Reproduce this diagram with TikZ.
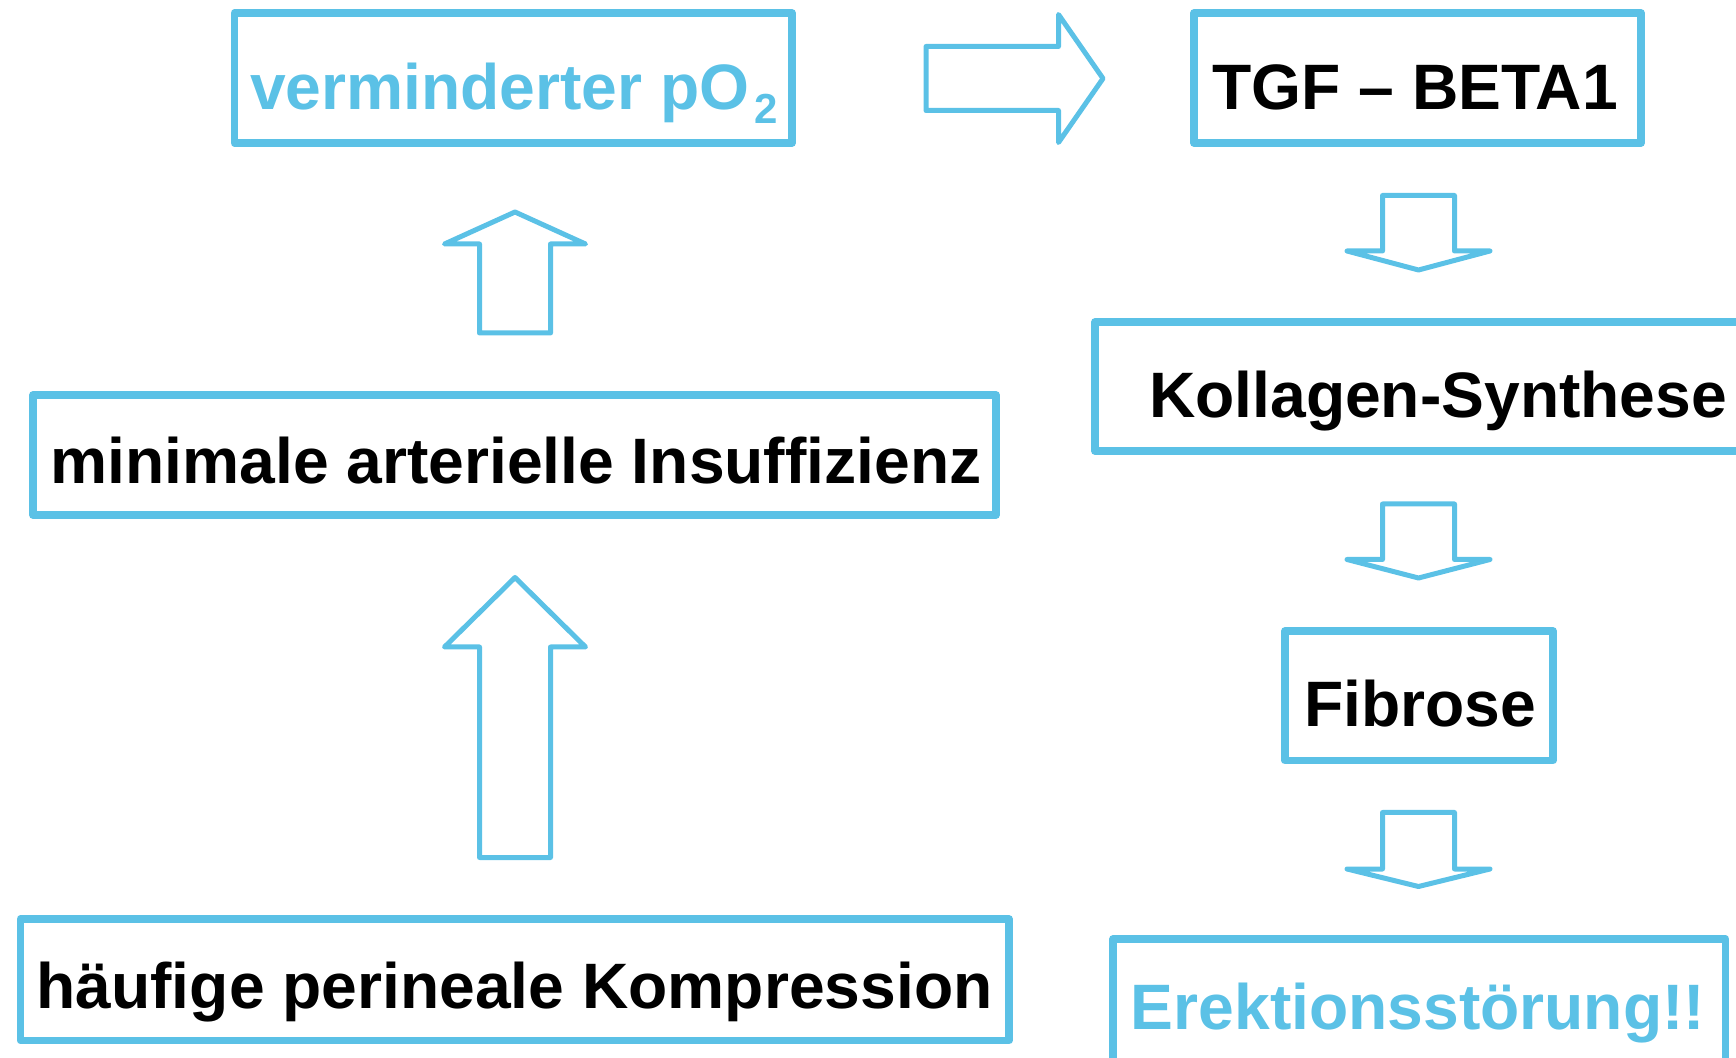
\documentclass[tikz,border=0pt]{standalone}
\usepackage{fontspec}
\setmainfont{Liberation Sans}
\definecolor{hellblau}{RGB}{91,193,230}

\begin{document}
\begin{tikzpicture}[x=0.5pt,y=-0.5pt,
  kasten/.style={draw=hellblau, line width=3.75pt, line join=round, inner sep=0pt},
  pfeil/.style={draw=hellblau, line width=2.5pt, line join=round, line cap=round},
  schrift/.style={font=\fontsize{32.1}{36}\selectfont\bfseries, anchor=base, inner sep=0pt}]
\useasboundingbox (0,0) rectangle (1736,1058);
\clip (0,0) rectangle (1736,1058);

\node[kasten, minimum width=278.75pt, minimum height=65pt] (po2box) at (513.25,78) {};
\node[kasten, minimum width=223.5pt, minimum height=65pt] (tgfbox) at (1417.5,78) {};
\node[kasten, minimum width=481.5pt, minimum height=60pt] (insuffbox) at (514.5,455) {};
\node[kasten, minimum width=352.5pt, minimum height=64.5pt] (kollagenbox) at (1447.5,386.5) {};
\node[kasten, minimum width=134pt, minimum height=64.75pt] (fibrosebox) at (1419,695.75) {};
\node[kasten, minimum width=494.25pt, minimum height=60.75pt] (kompbox) at (514.75,979.75) {};
\node[kasten, minimum width=306.25pt, minimum height=61.5pt] (erektbox) at (1419.25,1000.5) {};

\node[schrift, text=hellblau] (po2) at (514,109.5) {verminderter pO\kern2.5pt\raisebox{-7pt}{\fontsize{21}{21}\selectfont 2}};
\node[schrift] (tgf) at (1415,110) {TGF – BETA1};
\node[schrift] (insuff) at (516,484) {minimale arterielle Insuffizienz};
\node[schrift] (kollagen) at (1438,418) {Kollagen-Synthese};
\node[schrift] (fibrose) at (1420,727) {Fibrose};
\node[schrift] (komp) at (514.5,1008) {häufige perineale Kompression};
\node[schrift, text=hellblau] (erekt) at (1418,1029) {Erektionsstörung!!};

\draw[pfeil] (926,46.5) -- (1058.5,46.5) -- (1058.5,14.5) -- (1103,78.5) -- (1058.5,142.5) -- (1058.5,110.5) -- (926,110.5) -- cycle;

\draw[pfeil] (479.5,333) -- (479.5,244) -- (444.5,244) -- (515,212) -- (585.5,244) -- (550.5,244) -- (550.5,333) -- cycle;
\draw[pfeil] (479.5,857.5) -- (479.5,647) -- (444.5,647) -- (515,577.5) -- (585.5,647) -- (550.5,647) -- (550.5,857.5) -- cycle;

\draw[pfeil] (1382.5,195.5) -- (1454.5,195.5) -- (1454.5,251) -- (1490,251) -- (1418.5,270) -- (1347,251) -- (1382.5,251) -- cycle;
\draw[pfeil] (1382.5,504) -- (1454.5,504) -- (1454.5,559.5) -- (1490,559.5) -- (1418.5,578) -- (1347,559.5) -- (1382.5,559.5) -- cycle;
\draw[pfeil] (1382.5,812.5) -- (1454.5,812.5) -- (1454.5,869) -- (1490,869) -- (1418.5,886.5) -- (1347,869) -- (1382.5,869) -- cycle;
\end{tikzpicture}
\end{document}
